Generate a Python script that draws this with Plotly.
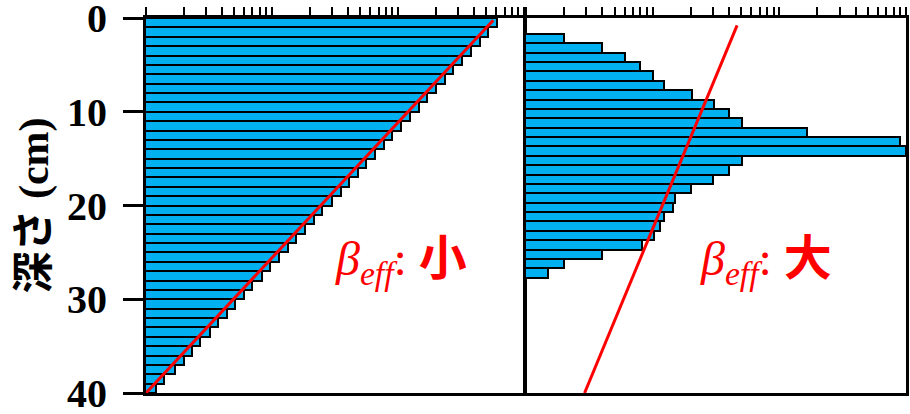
import plotly.graph_objects as go

# Depth bins (cm) and counts for the two profiles (log-scaled x)
left_depth = [i + 0.5 for i in range(40)]
left_values = [611, 521, 444, 379, 323, 275, 235, 200, 171, 146,
               124, 106, 90, 77, 66, 56, 48, 41, 35, 30,
               25, 21.5, 18.4, 15.6, 13.3, 11.4, 9.7, 8.3, 7.0, 6.0,
               5.1, 4.4, 3.7, 3.2, 2.7, 2.3, 2.0, 1.7, 1.4, 1.2]

right_depth = [2.2 + i for i in range(26)]
right_values = [2.0, 4.0, 6.0, 8.0, 10, 12.2, 20.4, 30.5, 40, 51,
                164, 896, 1000, 51, 40, 30, 20, 15, 14.4, 12.2,
                11.4, 10.2, 8.2, 4.0, 2.0, 1.5]

# Fitted lines (x, depth)
left_line_x = [1, 570]
left_line_depth = [40, 0.25]
right_line_x = [2.9, 46.4]
right_line_depth = [40, 0.78]

depth_ticks = [0, 10, 20, 30, 40]
minor_ticks = [m * 10 ** e for e in range(3) for m in range(1, 10)] + [1000]

BAR_COLOR = "#00B0F0"
SERIF = "Liberation Serif, Noto Sans CJK JP"

fig = go.Figure()

fig.add_trace(go.Bar(
    x=left_values, y=left_depth, orientation="h", width=1,
    marker=dict(color=BAR_COLOR, line=dict(color="black", width=2)),
    xaxis="x", yaxis="y", showlegend=False,
))
fig.add_trace(go.Bar(
    x=right_values, y=right_depth, orientation="h", width=1,
    marker=dict(color=BAR_COLOR, line=dict(color="black", width=2)),
    xaxis="x2", yaxis="y2", showlegend=False,
))
fig.add_trace(go.Scatter(
    x=left_line_x, y=left_line_depth, mode="lines",
    line=dict(color="red", width=3), xaxis="x", yaxis="y", showlegend=False,
))
fig.add_trace(go.Scatter(
    x=right_line_x, y=right_line_depth, mode="lines",
    line=dict(color="red", width=3), xaxis="x2", yaxis="y2", showlegend=False,
))

xcommon = dict(
    type="log", range=[0, 3], side="top", automargin=False,
    tickmode="array", tickvals=minor_ticks, showticklabels=False,
    ticks="outside", ticklen=8, tickwidth=2, tickcolor="black",
    showline=True, linecolor="black", linewidth=3, mirror=True,
    showgrid=False, zeroline=False,
)
ycommon = dict(
    range=[40, 0], automargin=False,
    showline=True, linecolor="black", linewidth=3, mirror=True,
    showgrid=False, zeroline=False,
)

fig.update_layout(
    width=910, height=414,
    margin=dict(l=146, r=4, t=18, b=21),
    paper_bgcolor="white", plot_bgcolor="white",
    bargap=0,
    xaxis=dict(domain=[0, 0.4974], anchor="y", **xcommon),
    xaxis2=dict(domain=[0.5, 1], anchor="y2", **xcommon),
    yaxis=dict(
        anchor="x", tickmode="array", tickvals=depth_ticks,
        ticks="outside", ticklen=20, tickwidth=3, tickcolor="black",
        ticklabelstandoff=8, ticklabeloverflow="allow",
        tickfont=dict(family="Liberation Serif", size=40, color="black", weight="bold"),
        title=dict(text="深さ (cm)", standoff=6,
                   font=dict(family=SERIF, size=42, color="black", weight="bold")),
        **ycommon,
    ),
    yaxis2=dict(anchor="x2", showticklabels=False, ticks="", **ycommon),
    annotations=[
        dict(xref="x domain", yref="y domain", x=0.675, y=0.35,
             xanchor="center", yanchor="middle", showarrow=False,
             text="<i>β<sub>eff</sub></i>: <b>小</b>",
             font=dict(family=SERIF, size=48, color="red")),
        dict(xref="x2 domain", yref="y2 domain", x=0.632, y=0.35,
             xanchor="center", yanchor="middle", showarrow=False,
             text="<i>β<sub>eff</sub></i>: <b>大</b>",
             font=dict(family=SERIF, size=48, color="red")),
    ],
)

fig.write_html("out.html")
